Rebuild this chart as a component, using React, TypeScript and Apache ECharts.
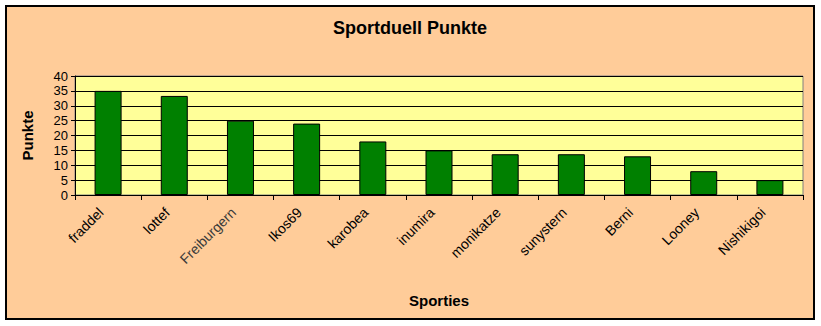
import React, { useEffect, useRef } from "react";
import * as echarts from "echarts";

const categories = ["fraddel", "lottef", "Freiburgern", "Ikos69", "karobea", "inumira", "monikatze", "sunystern", "Berni", "Looney", "Nishikigoi"];
const punkte = [35, 33.3, 25, 24, 18, 15, 13.7, 13.7, 13, 8, 5];
const yTicks = { min: 0, max: 40, interval: 5 };
const titleText = "Sportduell Punkte";
const xName = "Sporties";
const yName = "Punkte";

export default function App() {
  const ref = useRef<HTMLDivElement>(null);
  useEffect(() => {
    const chart = echarts.init(ref.current!, undefined, { renderer: "svg" });
    const font = "'Liberation Sans', Arial, sans-serif";
    chart.setOption({
      animation: false,
      backgroundColor: "#ffffff",
      textStyle: { fontFamily: font },
      graphic: [
        {
          type: "rect",
          z: -10,
          silent: true,
          shape: { x: 6, y: 6, width: 808, height: 313 },
          style: { fill: "#FFCC99", stroke: "#000000", lineWidth: 2 },
        },
        {
          type: "text",
          x: 410,
          y: 28,
          style: {
            text: titleText,
            align: "center",
            verticalAlign: "middle",
            fill: "#000",
            font: "bold 18px 'Liberation Sans', Arial, sans-serif",
          },
        },
      ],
      grid: {
        left: 75,
        right: 18,
        top: 76,
        bottom: 131,
        show: true,
        backgroundColor: "#FFFF99",
        borderColor: "#808080",
        borderWidth: 1,
        z: 0,
      },
      xAxis: {
        type: "category",
        data: categories,
        name: xName,
        nameLocation: "middle",
        nameGap: 98,
        nameTextStyle: { fontFamily: font, fontSize: 15, fontWeight: "bold", color: "#000" },
        axisLine: { show: true, lineStyle: { color: "#000", width: 1 } },
        axisTick: { show: true, length: 5, lineStyle: { color: "#000" } },
        axisLabel: {
          rotate: 45,
          margin: 8,
          padding: [0, 10, 0, 0],
          fontSize: 14,
          color: "#000",
          fontFamily: font,
          interval: 0,
          formatter: (v: string) => (v === "Freiburgern" ? "{f|" + v + "}" : v),
          rich: { f: { fontSize: 14, color: "#3a3a3a", fontFamily: font } },
        },
      },
      yAxis: {
        type: "value",
        min: yTicks.min,
        max: yTicks.max,
        interval: yTicks.interval,
        name: yName,
        nameLocation: "middle",
        nameGap: 40,
        nameTextStyle: { fontFamily: font, fontSize: 15, fontWeight: "bold", color: "#000" },
        axisLine: { show: true, lineStyle: { color: "#000", width: 1 } },
        axisTick: { show: true, length: 4, lineStyle: { color: "#000" } },
        axisLabel: { fontSize: 13, color: "#000", margin: 7, fontFamily: font },
        splitLine: { show: true, lineStyle: { color: "#000", width: 1 } },
      },
      series: [
        {
          type: "bar",
          data: punkte,
          barWidth: 27,
          itemStyle: { color: "#008000", borderColor: "#000", borderWidth: 1 },
        },
      ],
    });
    return () => chart.dispose();
  }, []);
  return (
    <div
      ref={ref}
      style={{ position: "absolute", left: 0, top: 0, width: 821, height: 326 }}
    />
  );
}
